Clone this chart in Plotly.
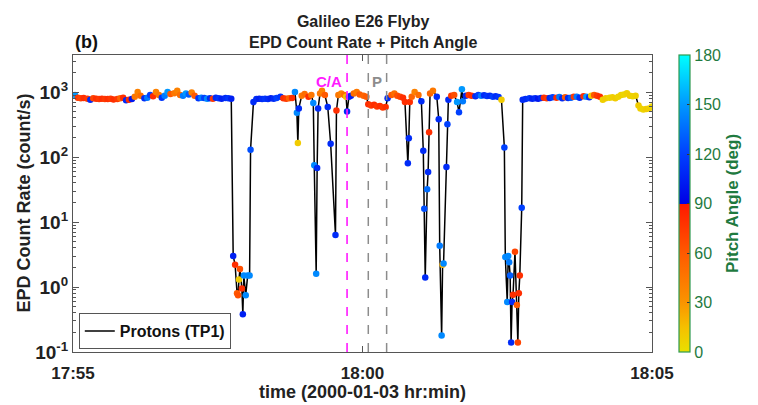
import pandas as pd
import plotly.graph_objects as go

# seconds after 2000-01-03 17:55:00
secs = [2, 5, 8, 11, 15, 18, 21, 24, 27, 30, 33, 36, 39, 42, 46, 49, 52, 55, 58, 61,
        64, 67, 70, 74, 77, 80, 83, 86, 89, 92, 95, 98, 101, 105, 108, 111, 114, 117, 120, 123,
        126, 130, 133, 136, 139, 142, 145, 148, 151, 154, 158, 161, 164,
        166, 168, 170, 171, 172, 173, 175, 176, 177, 179, 181, 183, 184,
        187, 190, 193, 196, 199, 202, 205, 208, 211, 215, 218, 221, 224, 227, 230, 232, 233, 234,
        237, 240, 244, 247, 249, 250, 252, 253, 254, 256, 258, 261, 264, 267, 272, 273,
        275, 278, 281, 283, 284, 286, 288, 291, 294, 297, 301, 304,
        306, 309, 312, 315, 318, 321, 324, 326, 330, 333, 336, 339, 342, 344,
        347, 348, 349, 351, 354, 358, 361, 363, 364, 365, 367, 368, 369, 370, 373, 377, 379,
        380, 382, 383, 384, 387, 388, 389, 392, 395, 398, 400, 403, 404, 407, 410, 413, 417,
        420, 423, 426, 429, 432, 435, 438, 441, 444, 447, 448, 450, 451, 452, 453, 454, 455,
        456, 458, 460, 461, 462, 463, 465, 466,
        469, 473, 476, 479, 482, 485, 488, 491, 494, 497, 501, 504, 507, 510, 513, 516, 519,
        522, 525, 529, 532, 535, 537, 540, 543, 546,
        549, 552, 556, 559, 562, 565, 568, 571, 574, 577, 580, 583, 586, 588, 591, 594, 597, 600]

counts = [900, 820, 800, 810, 790, 760, 800, 790, 780, 790, 780, 780, 790, 770, 780, 800, 820, 750, 760, 780,
          850, 1000, 880, 800, 820, 900, 860, 1000, 900, 820, 880, 1000, 930, 960, 1050, 900, 880, 950, 920, 980,
          880, 800, 820, 810, 790, 800, 790, 820, 800, 790, 810, 800, 790,
          3.0, 2.2, 0.8, 0.75, 1.3, 1.9, 0.95, 0.38, 1.5, 0.75, 1.5, 1.5, 130,
          700, 780, 790, 780, 790, 780, 800, 790, 810, 850, 800, 790, 800, 810, 1000, 480, 165, 560,
          880, 930, 850, 900, 680, 75, 1.6, 68, 560, 950, 1050, 900, 590, 160, 6.3, 520,
          900, 950, 900, 850, 500, 850, 880, 950, 1000, 920, 880, 850,
          650, 620, 640, 600, 610, 580, 590, 800, 900, 950, 880, 850, 820, 700,
          80, 195, 700, 850, 1000, 900, 720, 125, 16, 1.4, 32, 59, 240, 950, 1050, 850, 380,
          4.3, 0.18, 2.2, 2.3, 70, 320, 760, 880, 900, 700, 490, 1100, 720, 880, 900, 880, 860,
          900, 880, 890, 870, 880, 850, 860, 840, 760, 140, 2.9, 0.59, 3.0, 2.4, 1.5, 0.14, 0.59,
          0.76, 3.5, 0.53, 0.14, 0.8, 1.5, 16.6, 760,
          780, 800, 790, 800, 790, 810, 820, 800, 810, 830, 820, 840, 800, 830, 810, 820, 850,
          850, 820, 860, 850, 830, 880, 900, 880, 850,
          760, 800, 820, 830, 800, 850, 900, 920, 960, 880, 860, 880, 620, 560, 540, 550, 560, 600]

pitch = [150, 75, 70, 80, 75, 110, 70, 80, 75, 80, 75, 80, 75, 80, 75, 55, 80, 110, 80, 100,
         45, 40, 50, 110, 140, 120, 80, 40, 45, 115, 140, 150, 60, 45, 40, 50, 140, 150, 130, 40,
         60, 115, 140, 120, 145, 110, 75, 110, 115, 105, 110, 115, 105,
         105, 80, 60, 65, 10, 65, 80, 105, 145, 145, 145, 145, 125,
         110, 110, 105, 110, 115, 110, 105, 110, 120, 115, 80, 75, 55, 80, 145, 145, 10, 110,
         45, 50, 80, 45, 145, 145, 145, 110, 110, 45, 40, 60, 110, 110, 110, 80,
         45, 40, 50, 15, 110, 110, 105, 50, 45, 60, 55, 60,
         80, 75, 80, 75, 80, 75, 80, 110, 60, 50, 65, 70, 80, 80,
         110, 110, 80, 55, 40, 50, 110, 110, 125, 110, 135, 110, 80, 55, 45, 110, 110,
         140, 145, 20, 145, 110, 120, 110, 75, 65, 150, 120, 150, 140, 110, 75, 80, 110,
         120, 140, 110, 115, 110, 120, 110, 115, 10, 120, 145, 145, 145, 140, 130, 110, 110,
         80, 70, 60, 70, 80, 80, 120, 110,
         110, 115, 105, 110, 100, 110, 80, 75, 110, 120, 80, 140, 110, 60, 110, 130, 75,
         140, 110, 80, 150, 110, 10, 60, 75, 80,
         8, 10, 5, 8, 10, 6, 8, 5, 8, 10, 6, 8, 10, 8, 6, 10, 8, 5]

ca_time = "2000-01-03 17:59:44"
p_times = ["2000-01-03 18:00:06", "2000-01-03 18:00:25"]
x_range = ["2000-01-03 17:55:00", "2000-01-03 18:05:00"]
pa_ticks = [0, 30, 60, 90, 120, 150, 180]
y_tickvals = [0.1, 1, 10, 100, 1000]
y_ticktext = ["10<sup>-1</sup>", "10<sup>0</sup>", "10<sup>1</sup>", "10<sup>2</sup>", "10<sup>3</sup>"]

t0 = pd.Timestamp("2000-01-03 17:55:00")
times = [t0 + pd.Timedelta(seconds=s) for s in secs]

FONT = "Liberation Sans, Arial, Helvetica, sans-serif"
GREEN = "#1f7a3f"

colorscale = [[0.0, "#e8e000"], [0.083, "#f5c000"], [0.167, "#fa9400"], [0.333, "#ff5a00"],
              [0.5, "#ff1800"], [0.5, "#0000e6"], [0.667, "#0040ff"], [0.833, "#0098ff"],
              [1.0, "#00ffff"]]

fig = go.Figure()
fig.add_trace(go.Scatter(x=times, y=counts, mode="lines", name="Protons (TP1)",
                         line=dict(color="black", width=1.5), hoverinfo="skip"))
fig.add_trace(go.Scatter(x=times, y=counts, mode="markers", showlegend=False,
                         marker=dict(size=6.5, color=pitch, cmin=0, cmax=180,
                                     colorscale=colorscale,
                                     colorbar=dict(x=1.0466, xanchor="left", xpad=0, y=0.5,
                                                   yanchor="middle", ypad=0, len=1,
                                                   thickness=11, outlinecolor="#2e9a50",
                                                   outlinewidth=1.2, tickvals=pa_ticks,
                                                   ticks="inside", ticklen=3, tickcolor="#333",
                                                   tickfont=dict(family=FONT, size=16, color=GREEN),
                                                   title=dict(text="<b>Pitch Angle (deg)</b>", side="right",
                                                              font=dict(family=FONT, size=17, color=GREEN)))),
                         ))

for pt in p_times:
    fig.add_shape(type="line", xref="x", yref="paper", x0=pt, x1=pt, y0=0, y1=1,
                  line=dict(color="#8c8c8c", width=1.5, dash="dash"))
fig.add_shape(type="line", xref="x", yref="paper", x0=ca_time, x1=ca_time, y0=0, y1=1,
              line=dict(color="#ff1aff", width=1.6, dash="dash"))

fig.add_annotation(x="2000-01-03 17:59:25", y=0.946, xref="x", yref="paper", text="<b>C/A</b>",
                   showarrow=False, font=dict(family=FONT, size=15, color="#ff1aff"))
fig.add_annotation(x="2000-01-03 18:00:15", y=0.946, xref="x", yref="paper", text="<b>P</b>",
                   showarrow=False, font=dict(family=FONT, size=15, color="#8c8c8c"))
fig.add_annotation(x=0.5, y=1.0, xref="paper", yref="paper", yanchor="bottom", yshift=2,
                   text="<b>Galileo E26 Flyby<br>EPD Count Rate + Pitch Angle</b>",
                   showarrow=False, font=dict(family=FONT, size=16, color="#222"))
fig.add_annotation(x=0.0, y=1.0, xref="paper", yref="paper", xanchor="left", yanchor="bottom",
                   xshift=0, yshift=1, text="<b>(b)</b>", showarrow=False,
                   font=dict(family=FONT, size=18, color="#111"))
# axis titles
fig.add_annotation(x=0.5, y=0.0, xref="paper", yref="paper", xanchor="center", yanchor="middle",
                   yshift=-40, text="<b>time (2000-01-03 hr:min)</b>", showarrow=False,
                   font=dict(family=FONT, size=18, color="#222"))
fig.add_annotation(x=0.0, y=0.5, xref="paper", yref="paper", xanchor="center", yanchor="middle",
                   xshift=-50, textangle=-90, text="<b>EPD Count Rate (count/s)</b>", showarrow=False,
                   font=dict(family=FONT, size=18, color="#222"))

fig.update_layout(
    width=750, height=397,
    margin=dict(l=65, r=106, t=47, b=53, autoexpand=False),
    paper_bgcolor="white", plot_bgcolor="white",
    font=dict(family=FONT, color="#222"),
    legend=dict(x=0.01, y=0.01, xanchor="left", yanchor="bottom", bgcolor="white",
                bordercolor="#555", borderwidth=1,
                font=dict(family=FONT, size=16, color="#111", weight="bold"),
                itemwidth=30, tracegroupgap=0),
    showlegend=True,
)
fig.update_xaxes(type="date", range=x_range, tick0=x_range[0], dtick=300000,
                 tickformat="%H:%M", ticks="inside", ticklen=6, tickcolor="#555",
                 showline=True, linecolor="#555", linewidth=1.2, mirror="ticks",
                 showgrid=False, zeroline=False, automargin=False, ticklabelstandoff=5,
                 tickfont=dict(family=FONT, size=17, color="#222", weight="bold"))
fig.update_yaxes(type="log", range=[-1, 3.57], tickvals=y_tickvals, ticktext=y_ticktext,
                 ticks="inside", ticklen=6, tickcolor="#555",
                 minor=dict(ticks="inside", ticklen=3, tickcolor="#555", dtick="D1", showgrid=False),
                 showline=True, linecolor="#555", linewidth=1.2, mirror="ticks",
                 showgrid=False, zeroline=False, automargin=False,
                 tickfont=dict(family=FONT, size=19, color="#222", weight="bold"))

fig.write_html("out.html")
